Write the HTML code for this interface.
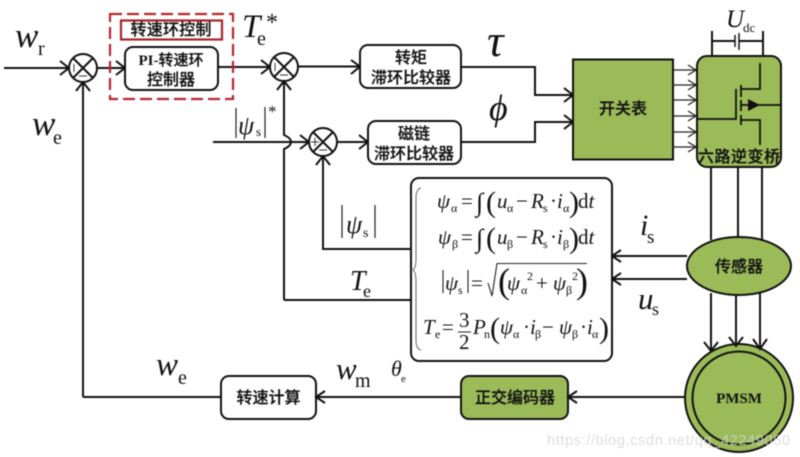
<!DOCTYPE html>
<html><head><meta charset="utf-8">
<style>
html,body{margin:0;padding:0;background:#fff}
svg{display:block;filter:blur(0.45px)}
.cn{font-family:"Liberation Sans","Noto Sans CJK SC",sans-serif;font-weight:500;fill:#111;stroke:#111;stroke-width:.25;text-anchor:middle;font-size:16px}
.i{font-family:"Liberation Serif",serif;font-style:italic;fill:#111}
.r{font-family:"Liberation Serif",serif;fill:#111}
.l{fill:none;stroke:#111;stroke-width:2}
.a{fill:none;stroke:#111;stroke-width:2}
.box{fill:#fff;stroke:#111;stroke-width:2}
.g{fill:#9bbb59;stroke:#111;stroke-width:2}
.f{font-size:21px}
.s{font-size:12px}
.b{font-size:30px}
.h{font-size:36px}
</style></head><body>
<svg width="800" height="457" viewBox="0 0 800 457" xmlns="http://www.w3.org/2000/svg">
<rect width="800" height="457" fill="#fff"/>
<!-- lines -->
<path class="l" d="M4 68H69M97 68H125M218 67H270M298 66.500H360M83 397V82M83 397H221M316 397H461M568 397H685"/>
<path class="l" d="M284 300V149Q291 146 291 142Q291 138 284 135V81M284 300H411M213 142H309M337 142H368M323 156V249H411"/>
<path class="l" d="M461 67H535V95H573M461 142H535V122H573"/>
<path class="a" d="M60 61L69 68L60 75M116 61L125 68L116 75M261 60L270 67L261 74M351 60L360 66.500L351 74M76 91L83 82L90 91M277 90L284 81L291 90M300 135L309 142L300 149M359 135L368 142L359 149M316 165L323 156L330 165M564 88L573 95L564 102M564 115L573 122L564 129"/>
<!-- red -->
<rect x="110" y="14" width="123" height="85" fill="none" stroke="#b5272d" stroke-width="2.200" stroke-dasharray="12 5"/>
<rect x="121" y="20.500" width="101" height="19" fill="#fff" stroke="#a8242a" stroke-width="2.200"/>
<text class="cn" x="171" y="35" textLength="81">转速环控制</text>
<rect class="box" x="125" y="47" width="93" height="43" rx="8"/>
<text x="171" y="65" text-anchor="middle" font-size="15" font-weight="700" font-family="'Liberation Serif','Noto Sans CJK SC',serif" fill="#111">PI-<tspan font-family="'Noto Sans CJK SC',sans-serif" font-weight="500" stroke="#111" stroke-width=".25">转速环</tspan></text>
<text class="cn" x="171" y="85">控制器</text>
<!-- sums -->
<g fill="#fff" stroke="#111" stroke-width="2">
<circle cx="83" cy="68" r="14"/><path d="M73 58L93 78M93 58L73 78"/>
<circle cx="284" cy="67" r="14"/><path d="M274 57L294 77M294 57L274 77"/>
<circle cx="323" cy="142" r="14"/><path d="M313 132L333 152M333 132L313 152"/>
</g>
<g stroke="#333" stroke-width="1" fill="none">
<path d="M74 64V72M79 76H87M275 63V71M280 75H288M311 142H319M315 138V146M319 150H327"/>
</g>
<!-- torque/flux -->
<rect class="box" x="360" y="45" width="101" height="43" rx="8"/>
<text class="cn" x="411" y="63">转矩</text>
<text class="cn" x="411" y="83">滞环比较器</text>
<rect class="box" x="368" y="121" width="93" height="43" rx="8"/>
<text class="cn" x="414" y="139">磁链</text>
<text class="cn" x="414" y="159">滞环比较器</text>
<!-- switch table -->
<rect x="573" y="59.500" width="100" height="100" fill="#9bbb59" stroke="#111" stroke-width="2"/>
<text class="cn" x="623" y="114">开关表</text>
<path d="M673 70H696M673 85H696M673 100H696M673 116H696M673 132H696M673 147H696" stroke="#222" stroke-width="1.300" fill="none"/>
<path d="M688 65L696 70L688 75M688 80L696 85L688 90M688 95L696 100L688 105M688 111L696 116L688 121M688 127L696 132L688 137M688 142L696 147L688 152" stroke="#222" stroke-width="1.300" fill="none"/>
<!-- inverter -->
<path class="l" d="M712 31V56M763 31V56M712 41H735M739 41H763"/>
<path d="M735 35V47" stroke="#111" stroke-width="1.500"/><path d="M739 33V50" stroke="#111" stroke-width="1.500"/>
<rect class="g" x="697" y="56" width="84" height="111" rx="10"/>
<g fill="none" stroke="#111" stroke-width="1.800">
<path d="M760 63V89H740M697 119H736V89M740 120H760V145M740 105H780"/>
<path d="M741 85V97M741 100V111M741 115V125"/>
</g>
<path d="M748 99L748 111L760 105Z" fill="#111"/>
<text class="cn" x="739" y="162" textLength="82">六路逆变桥</text>
<path class="l" d="M711 167V240M738 167V240M762 167V240"/>
<!-- sensor -->
<path class="l" d="M711 293V350M736 293V345M760 293V348"/>
<circle class="g" cx="739" cy="398" r="54"/>
<circle class="g" cx="739" cy="398" r="46.500"/>
<path class="a" d="M704 342L711 351L718 342M729 337L736 346L743 337M753 339L760 349L767 339"/>
<ellipse class="g" cx="739" cy="266" rx="52" ry="29"/>
<text class="cn" x="739" y="272">传感器</text>
<text x="739" y="403" text-anchor="middle" font-family="'Liberation Serif',serif" font-weight="700" font-size="15" fill="#111">PMSM</text>
<path class="l" d="M687 256H612M687 279H612"/>
<path class="a" d="M621 250L612 256L621 262M621 273L612 279L621 285"/>
<!-- bottom boxes -->
<rect class="box" x="221" y="376" width="95" height="43" rx="8"/>
<text class="cn" x="268.500" y="403">转速计算</text>
<rect class="g" x="461" y="376" width="107" height="43" rx="8"/>
<text class="cn" x="515" y="403">正交编码器</text>
<path class="a" d="M325 391L316 397L325 403M577 391L568 397L577 403"/>
<!-- formula box -->
<rect class="box" x="411" y="178" width="201" height="183" rx="8"/>
<path d="M421 188Q416 189 416 198V258Q416 268 413 270Q416 272 416 282V340Q416 349 421 350" fill="none" stroke="#666" stroke-width="1"/>
<g class="f">
<text class="i" x="437" y="208">ψ</text><text class="r s" x="451" y="212">α</text>
<text class="r" x="461" y="208">=</text><text class="r" x="476" y="211" font-size="26">∫</text>
<text class="r b" x="486" y="212">(</text><text class="i" x="497" y="208">u</text><text class="r s" x="507" y="212">α</text>
<text class="r" x="516" y="208">−</text><text class="i" x="531" y="208">R</text><text class="r s" x="543" y="212">s</text>
<text class="r" x="550" y="208">·</text><text class="i" x="557" y="208">i</text><text class="r s" x="563" y="212">α</text>
<text class="r b" x="569" y="212">)</text><text class="r" x="578" y="208">d<tspan font-style="italic">t</tspan></text>

<text class="i" x="438" y="244">ψ</text><text class="r s" x="452" y="248">β</text>
<text class="r" x="461" y="244">=</text><text class="r" x="476" y="247" font-size="26">∫</text>
<text class="r b" x="486" y="248">(</text><text class="i" x="497" y="244">u</text><text class="r s" x="507" y="248">β</text>
<text class="r" x="516" y="244">−</text><text class="i" x="531" y="244">R</text><text class="r s" x="543" y="248">s</text>
<text class="r" x="550" y="244">·</text><text class="i" x="557" y="244">i</text><text class="r s" x="563" y="248">β</text>
<text class="r b" x="569" y="248">)</text><text class="r" x="578" y="244">d<tspan font-style="italic">t</tspan></text>

<text class="i" x="445" y="290">ψ</text><text class="r s" x="458" y="294">s</text>
<text class="r" x="471" y="290">=</text>
<text class="r h" x="498" y="293">(</text><text class="i" x="507" y="290">ψ</text><text class="r s" x="521" y="294">α</text><text class="r s" x="527" y="280">2</text>
<text class="r" x="536" y="290">+</text><text class="i" x="553" y="290">ψ</text><text class="r s" x="566" y="294">β</text><text class="r s" x="572" y="280">2</text><text class="r h" x="576" y="293">)</text>

<text class="i" x="423" y="334">T</text><text class="r s" x="435" y="338">e</text>
<text class="r" x="442" y="334">=</text><text class="r" x="459" y="327">3</text><text class="r" x="459" y="349">2</text>
<text class="i" x="473" y="334">P</text><text class="r s" x="484" y="338">n</text>
<text class="r b" x="490" y="338">(</text><text class="i" x="500" y="334">ψ</text><text class="r s" x="513" y="338">α</text>
<text class="r" x="523" y="334">·</text><text class="i" x="530" y="334">i</text><text class="r s" x="535" y="338">β</text>
<text class="r" x="542" y="334">−</text><text class="i" x="559" y="334">ψ</text><text class="r s" x="572" y="338">β</text>
<text class="r" x="580" y="334">·</text><text class="i" x="587" y="334">i</text><text class="r s" x="592" y="338">α</text>
<text class="r b" x="599" y="338">)</text>
</g>
<path d="M443 270V293M468 270V293M488 283L492 296L497 263.500H587M458 332H471" fill="none" stroke="#222" stroke-width="1.100"/>
<!-- labels -->
<text class="i" x="15" y="47" font-size="35">w</text><text class="r" x="38" y="55" font-size="20">r</text>
<text class="i" x="32" y="135" font-size="35">w</text><text class="r" x="53" y="144" font-size="20">e</text>
<text class="i" x="242" y="37" font-size="33">T</text><text class="r" x="257" y="45" font-size="20">e</text><text class="r" x="266" y="30" font-size="24">*</text>
<path d="M236 108V138M265 107V138M342 205V238M375 205V238" stroke="#222" stroke-width="1.200" fill="none"/>
<text class="i" x="238" y="134" font-size="26">ψ</text><text class="r" x="256" y="136" font-size="13">s</text><text class="r" x="268" y="117" font-size="17">*</text>
<text class="i" x="346" y="233" font-size="26">ψ</text><text class="r" x="363" y="237" font-size="14">s</text>
<text class="i" x="350" y="290" font-size="28">T</text><text class="r" x="363" y="297" font-size="18">e</text>
<text class="i" x="156" y="375" font-size="33">w</text><text class="r" x="178" y="384" font-size="20">e</text>
<text class="i" x="336" y="379" font-size="31">w</text><text class="r" x="355" y="387" font-size="20">m</text>
<text class="i" x="391" y="376" font-size="22">θ</text><text class="r" x="401" y="382" font-size="11">e</text>
<text class="i" x="487" y="56" font-size="46">τ</text>
<text class="i" x="489" y="120" font-size="36">ϕ</text>
<text class="i" x="726" y="27" font-size="25">U</text><text class="r" x="743" y="32" font-size="13">dc</text>
<text class="i" x="640" y="235" font-size="30">i</text><text class="r" x="647" y="243" font-size="19">s</text>
<text class="i" x="638" y="309" font-size="31">u</text><text class="r" x="652" y="315" font-size="18">s</text>
<text x="547" y="445" font-family="'Liberation Sans',sans-serif" font-size="14.500" fill="#d4d4d4" fill-opacity="0.8" textLength="243">https://blog.csdn.net/qq_42249050</text>
</svg>
</body></html>
